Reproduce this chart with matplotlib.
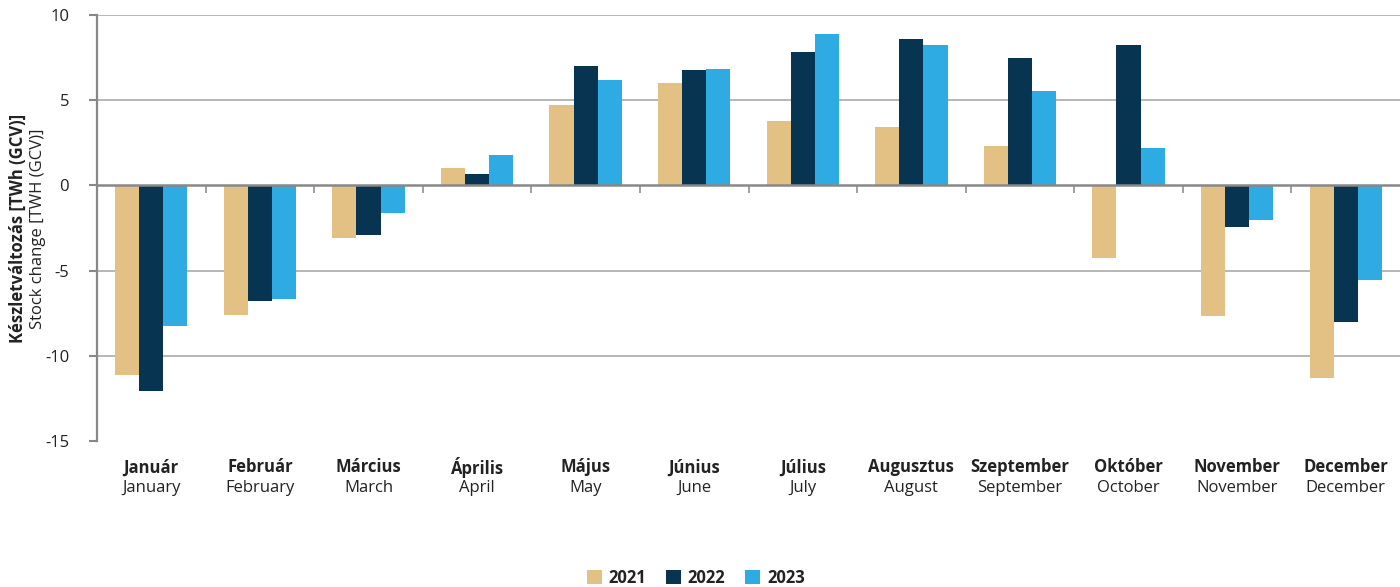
import matplotlib
matplotlib.use("Agg")
import matplotlib.pyplot as plt
import matplotlib.transforms as mtransforms
from matplotlib.patches import Patch
import numpy as np

plt.rcParams['font.family'] = ['Open Sans', 'DejaVu Sans']

months_hu = ['Január', 'Február', 'Március', 'Április', 'Május', 'Június',
             'Július', 'Augusztus', 'Szeptember', 'Október', 'November', 'December']
months_en = ['January', 'February', 'March', 'April', 'May', 'June',
             'July', 'August', 'September', 'October', 'November', 'December']
years = ['2021', '2022', '2023']
v2021 = [-11.1, -7.6, -3.1, 1.0, 4.7, 6.0, 3.8, 3.4, 2.3, -4.25, -7.65, -11.3]
v2022 = [-12.05, -6.8, -2.9, 0.65, 7.0, 6.8, 7.85, 8.6, 7.5, 8.25, -2.45, -8.0]
v2023 = [-8.25, -6.65, -1.6, 1.8, 6.2, 6.85, 8.9, 8.25, 5.55, 2.2, -2.0, -5.55]
colors = ['#E3C084', '#063451', '#2EABE2']

fig = plt.figure(figsize=(14, 5.87), dpi=100)
ax = fig.add_axes([0.0693, 0.2487, 0.9307, 0.7257])

x = np.arange(len(months_hu))
w = 0.222
for i, vals in enumerate([v2021, v2022, v2023]):
    ax.bar(x + (i - 1) * w, vals, width=w, color=colors[i], zorder=3)

ax.set_xlim(-0.5, 11.5)
ax.set_ylim(-15, 10)
ax.set_yticks([-15, -10, -5, 0, 5, 10])
ax.set_yticklabels(['-15', '-10', '-5', '0', '5', '10'], fontsize=12, color='#222222')
ax.tick_params(axis='y', length=6, width=1.5, color='#888888', pad=14)
for yv in [-10, -5, 5, 10]:
    ax.axhline(yv, color='#aaaaaa', lw=1.2, zorder=1)
ax.axhline(0, color='#888888', lw=1.8, zorder=4)

for s in ['top', 'right', 'bottom']:
    ax.spines[s].set_visible(False)
ax.spines['left'].set_color('#888888')
ax.spines['left'].set_linewidth(1.6)

ax.set_xticks([])
# tick marks between months hang down from the zero line
zero_frac = (0 - (-15)) / (10 - (-15))
sec = ax.secondary_xaxis(zero_frac)
sec.spines['top'].set_visible(False)
sec.spines['bottom'].set_visible(False)
sec.set_xticks(np.arange(0.5, 11.5, 1.0))
sec.set_xticklabels([])
sec.tick_params(axis='x', length=6, width=1.3, color='#999999', direction='in')

trans = mtransforms.blended_transform_factory(ax.transData, ax.transAxes)
for i in range(len(months_hu)):
    ax.text(x[i], -0.062, months_hu[i], transform=trans, ha='center', va='center',
            fontsize=12, fontweight='bold', color='#222222')
    ax.text(x[i], -0.11, months_en[i], transform=trans, ha='center', va='center',
            fontsize=12, color='#222222')

fig.text(0.013, 0.61, 'Készletváltozás [TWh (GCV)]', rotation=90, ha='center', va='center',
         fontsize=12, fontweight='bold', color='#222222')
fig.text(0.027, 0.61, 'Stock change [TWH (GCV)]', rotation=90, ha='center', va='center',
         fontsize=12, color='#222222')

handles = [Patch(facecolor=c, edgecolor='none') for c in colors]
leg = fig.legend(handles, years, loc='center', bbox_to_anchor=(0.497, 0.016), ncol=3,
                 frameon=False, handlelength=0.9, handleheight=0.9, handletextpad=0.4,
                 columnspacing=1.2, prop={'size': 12, 'weight': 'bold'})
for t in leg.get_texts():
    t.set_color('#222222')

fig.savefig('out.png', dpi=100)
